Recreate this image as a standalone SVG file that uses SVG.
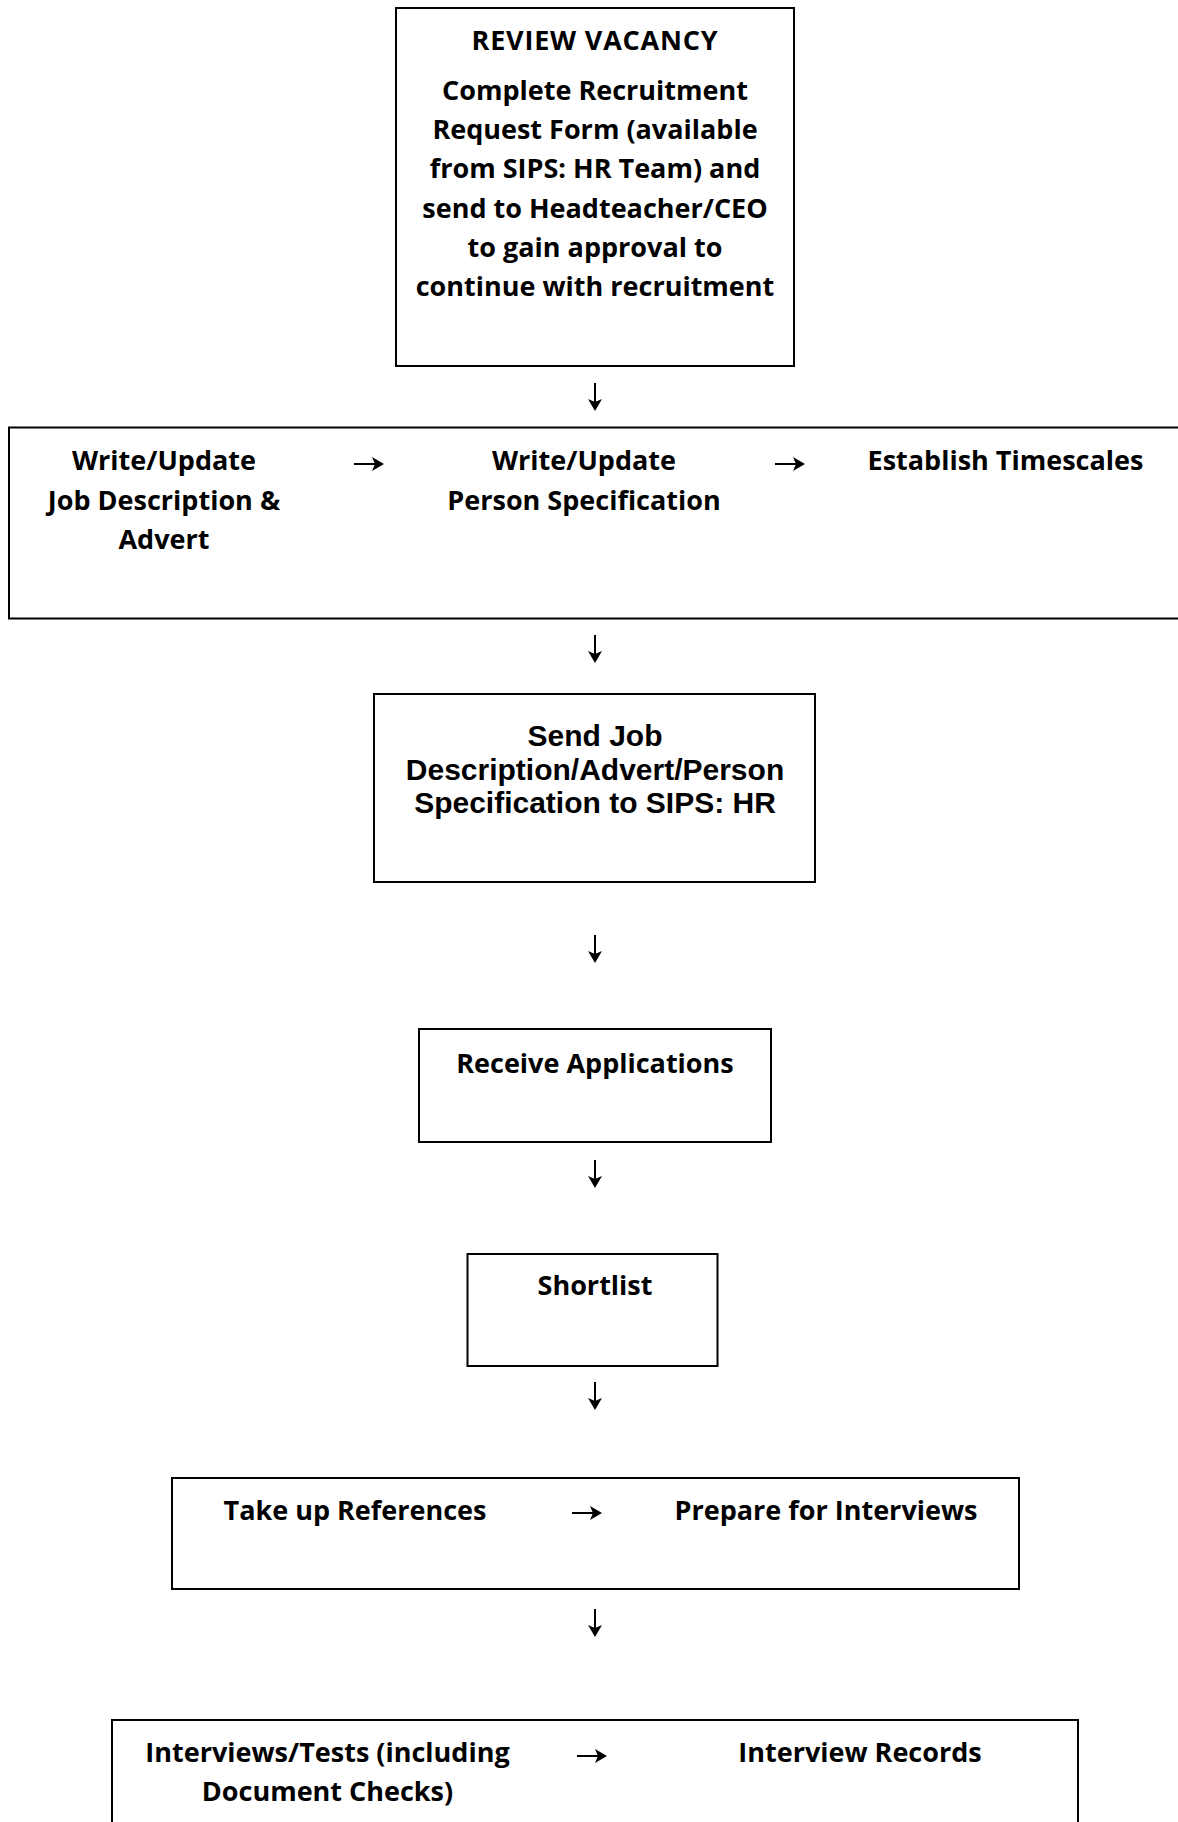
<svg xmlns="http://www.w3.org/2000/svg" width="1178" height="1822" viewBox="0 0 1178 1822">
  <style>
    .box { fill: #ffffff; stroke: #000000; stroke-width: 2; }
    .t { font-family: "Open Sans", "Noto Sans", "Liberation Sans", sans-serif; font-weight: 700; font-size: 27px; fill: #000000; text-anchor: middle; }
    .a { font-family: "Liberation Sans", Arial, sans-serif; font-weight: 700; font-size: 30px; fill: #000000; text-anchor: middle; }
    .conn { stroke: #000000; stroke-width: 2; fill: none; marker-end: url(#ah); }
  </style>
  <defs>
    <marker id="ah" viewBox="0 0 12 14" refX="4" refY="7" markerWidth="12" markerHeight="14" markerUnits="userSpaceOnUse" orient="auto">
      <path d="M0,0 L12,7 L0,14 L3,7 Z" fill="#000000"/>
    </marker>
  </defs>
  <rect x="0" y="0" width="1178" height="1822" fill="#ffffff"/>

  <g id="review-vacancy">
    <rect class="box" x="396" y="8" width="398" height="358"/>
    <text class="t" x="595" y="50" style="letter-spacing:0.8px">REVIEW VACANCY</text>
    <text class="t" x="595" y="100">Complete Recruitment</text>
    <text class="t" x="595" y="139">Request Form (available</text>
    <text class="t" x="595" y="178">from SIPS: HR Team) and</text>
    <text class="t" x="595" y="217.5">send to Headteacher/CEO</text>
    <text class="t" x="595" y="256.5">to gain approval to</text>
    <text class="t" x="595" y="296">continue with recruitment</text>
  </g>

  <g id="write-update">
    <rect class="box" x="9" y="427.5" width="1190" height="191"/>
    <text class="t" x="164" y="470">Write/Update</text>
    <text class="t" x="164" y="509.5">Job Description &amp;</text>
    <text class="t" x="164" y="549">Advert</text>
    <text class="t" x="584" y="470">Write/Update</text>
    <text class="t" x="584" y="509.5">Person Specification</text>
    <text class="t" x="1005.5" y="470">Establish Timescales</text>
  </g>

  <g id="send-to-hr">
    <rect class="box" x="374" y="694" width="441" height="188"/>
    <text class="a" x="595" y="746">Send Job</text>
    <text class="a" x="595" y="779.5">Description/Advert/Person</text>
    <text class="a" x="595" y="813">Specification to SIPS: HR</text>
  </g>

  <g id="receive-applications">
    <rect class="box" x="419" y="1029" width="352" height="113"/>
    <text class="t" x="595" y="1072.5">Receive Applications</text>
  </g>

  <g id="shortlist">
    <rect class="box" x="467.5" y="1254" width="250" height="112"/>
    <text class="t" x="595" y="1295">Shortlist</text>
  </g>

  <g id="references-interviews">
    <rect class="box" x="172" y="1478" width="847" height="111"/>
    <text class="t" x="355" y="1520">Take up References</text>
    <text class="t" x="826" y="1520">Prepare for Interviews</text>
  </g>

  <g id="interviews-records">
    <rect class="box" x="112" y="1720" width="966" height="120"/>
    <text class="t" x="327.5" y="1762">Interviews/Tests (including</text>
    <text class="t" x="327.5" y="1801">Document Checks)</text>
    <text class="t" x="860" y="1762">Interview Records</text>
  </g>

  <g id="connectors">
    <path class="conn" d="M595,383 V403"/>
    <path class="conn" d="M595,635 V655"/>
    <path class="conn" d="M595,935 V955"/>
    <path class="conn" d="M595,1160 V1180"/>
    <path class="conn" d="M595,1382 V1402"/>
    <path class="conn" d="M595,1609 V1629"/>
    <path class="conn" d="M354,464 H376"/>
    <path class="conn" d="M775,464 H797"/>
    <path class="conn" d="M572,1513 H594"/>
    <path class="conn" d="M577,1756 H599"/>
  </g>
</svg>
